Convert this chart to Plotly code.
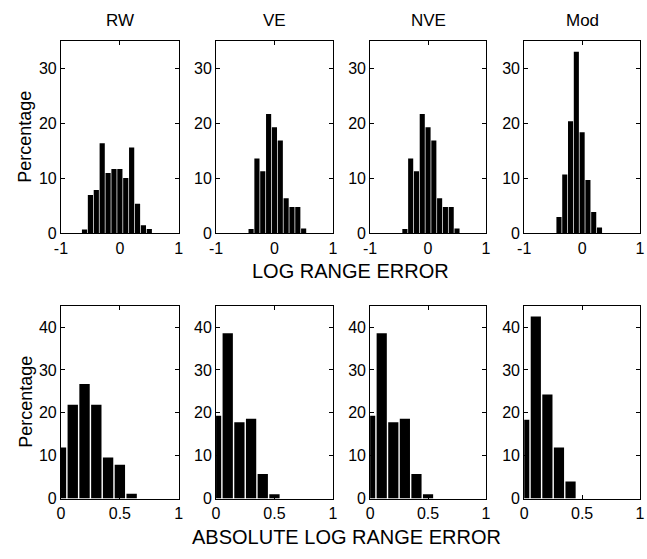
import plotly.graph_objects as go

# ---- data ----
panel_names = ["RW", "VE", "NVE", "Mod"]

top_centers_rw = [-0.6, -0.5, -0.4, -0.3, -0.2, -0.1, 0.0, 0.1, 0.2, 0.3, 0.4, 0.5]
top_rw = [0.7, 7.0, 7.9, 16.4, 11.0, 11.7, 11.7, 10.1, 15.6, 5.4, 1.5, 0.8]

top_centers_ve = [-0.4, -0.3, -0.2, -0.1, 0.0, 0.1, 0.2, 0.3, 0.4, 0.5]
top_ve = [0.8, 13.6, 11.3, 21.7, 19.3, 16.9, 6.4, 4.8, 4.8, 0.9]

top_centers_nve = [-0.4, -0.3, -0.2, -0.1, 0.0, 0.1, 0.2, 0.3, 0.4, 0.5]
top_nve = [0.8, 13.6, 11.3, 21.7, 19.3, 16.9, 6.4, 4.8, 4.8, 0.9]

top_centers_mod = [-0.4, -0.3, -0.2, -0.1, 0.0, 0.1, 0.2, 0.3]
top_mod = [3.0, 10.7, 20.4, 33.0, 18.4, 9.7, 3.9, 1.1]

bot_centers_rw = [0.0, 0.1, 0.2, 0.3, 0.4, 0.5, 0.6]
bot_rw = [11.9, 21.9, 26.7, 21.9, 9.6, 7.9, 1.1]

bot_centers_ve = [0.0, 0.1, 0.2, 0.3, 0.4, 0.5]
bot_ve = [19.3, 38.6, 17.8, 18.6, 5.7, 1.0]

bot_centers_nve = [0.0, 0.1, 0.2, 0.3, 0.4, 0.5]
bot_nve = [19.3, 38.6, 17.8, 18.6, 5.7, 1.0]

bot_centers_mod = [0.0, 0.1, 0.2, 0.3, 0.4]
bot_mod = [18.4, 42.5, 24.3, 11.9, 4.0]

top_xticks = [-1, 0, 1]
top_xticktext = ["-1", "0", "1"]
top_yticks = [0, 10, 20, 30]
bot_xticks = [0, 0.5, 1]
bot_xticktext = ["0", "0.5", "1"]
bot_yticks = [0, 10, 20, 30, 40]

top_series = [(top_centers_rw, top_rw), (top_centers_ve, top_ve),
              (top_centers_nve, top_nve), (top_centers_mod, top_mod)]
bot_series = [(bot_centers_rw, bot_rw), (bot_centers_ve, bot_ve),
              (bot_centers_nve, bot_nve), (bot_centers_mod, bot_mod)]

# ---- layout geometry (pixels of the 647x559 reference) ----
W, H = 647, 559
col_px = [(55, 175), (213, 332), (370, 488), (527, 645)]
top_px = (41.5, 237.3)
bot_px = (310.7, 506.7)
FONT = "Liberation Sans, Arial, Helvetica, sans-serif"

fig = go.Figure()
layout = dict(
    width=W, height=H,
    margin=dict(l=0, r=0, t=0, b=0, pad=0),
    paper_bgcolor="white", plot_bgcolor="white",
    showlegend=False,
    font=dict(family=FONT, size=16, color="black"),
)

def xd(px):
    return [px[0] / W, px[1] / W]

def yd(px):
    return [1 - px[1] / H, 1 - px[0] / H]

axis_common = dict(
    showline=True, linecolor="black", linewidth=1, mirror="ticks",
    ticks="inside", ticklen=4, tickcolor="black", tickwidth=1,
    showgrid=False, zeroline=False,
    tickfont=dict(family=FONT, size=16, color="black"),
)

annotations = []
idx = 0
for row, (series, ypx, xr, xt, xtt, yr, yt) in enumerate([
        (top_series, top_px, [-1, 1], top_xticks, top_xticktext, [0, 35], top_yticks),
        (bot_series, bot_px, [0, 1], bot_xticks, bot_xticktext, [0, 45], bot_yticks)]):
    for col in range(4):
        idx += 1
        xs, ys = series[col]
        xa = "x" if idx == 1 else f"x{idx}"
        ya = "y" if idx == 1 else f"y{idx}"
        fig.add_trace(go.Bar(x=xs, y=ys, width=0.088, marker=dict(color="black", line=dict(width=0)),
                             xaxis=xa, yaxis=ya))
        xkey = "xaxis" if idx == 1 else f"xaxis{idx}"
        ykey = "yaxis" if idx == 1 else f"yaxis{idx}"
        layout[xkey] = dict(axis_common, domain=xd(col_px[col]), range=xr,
                            tickvals=xt, ticktext=xtt, anchor=ya)
        layout[ykey] = dict(axis_common, domain=yd(ypx), range=yr,
                            tickvals=yt, anchor=xa)

def note(text, px, py, size, angle=0):
    return dict(text=text, x=px / W, y=1 - py / H, xref="paper", yref="paper",
                xanchor="center", yanchor="middle", showarrow=False, textangle=angle,
                font=dict(size=size, family=FONT, color="black"))

# column titles
for col, name in enumerate(panel_names):
    cx = (col_px[col][0] + col_px[col][1]) / 2
    annotations.append(note(name, cx, 21, 17))

# y labels
for ypx in (top_px, bot_px):
    cy = (ypx[0] + ypx[1]) / 2
    annotations.append(note("Percentage", 19, cy, 18, -90))

# x labels
annotations.append(note("LOG RANGE ERROR", 350, 275, 20))
annotations.append(note("ABSOLUTE LOG RANGE ERROR", 346, 546, 20))

layout["annotations"] = annotations
fig.update_layout(**layout)
fig.write_html(
    "out.html",
    post_script="document.body.style.margin='0';document.body.style.overflow='hidden';",
)
